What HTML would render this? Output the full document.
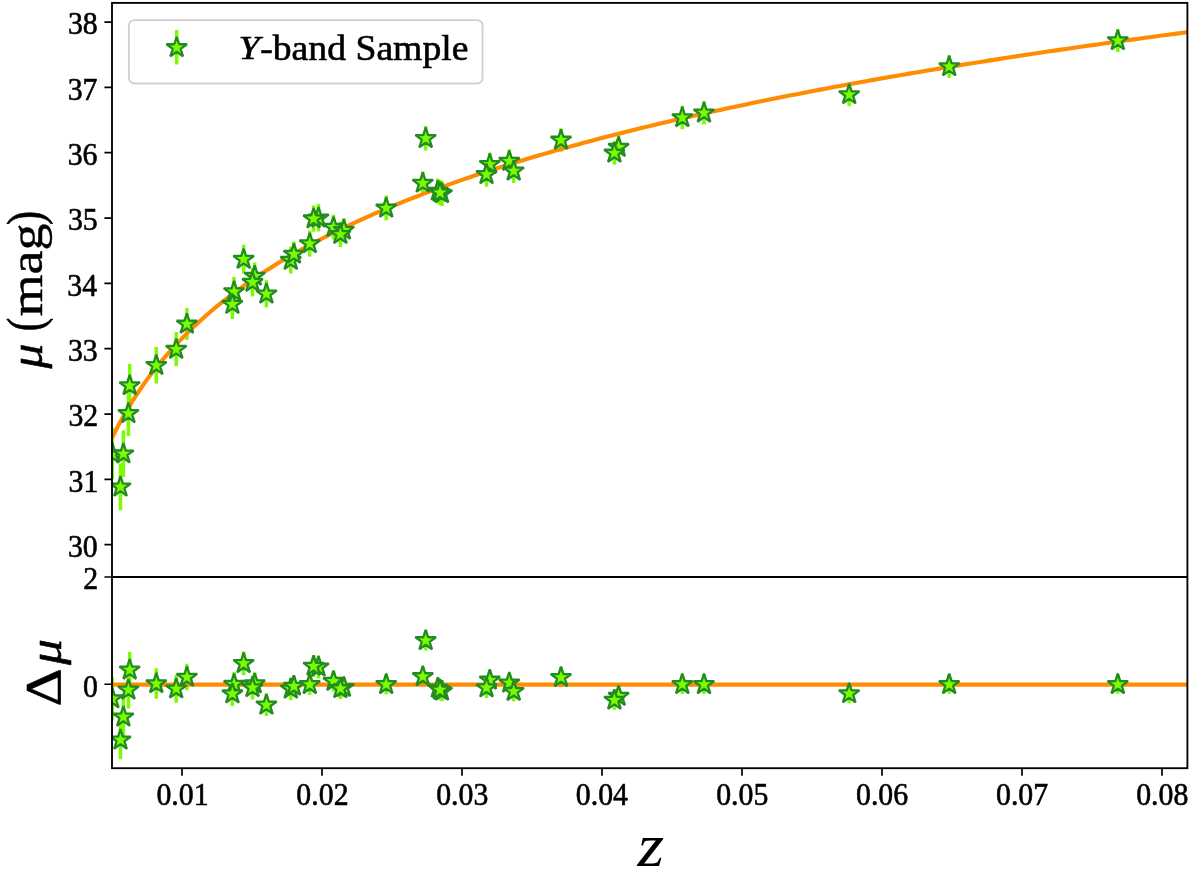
<!DOCTYPE html>
<html lang="en"><head><meta charset="utf-8"><title>Hubble diagram</title>
<style>html,body{margin:0;padding:0;background:#fff}body{width:1200px;height:873px;overflow:hidden}</style></head>
<body>
<svg width="1200" height="873" viewBox="0 0 1200 873" style="display:block">
<rect width="1200" height="873" fill="#fff"/>
<defs><clipPath id="ct"><rect x="112.0" y="2.9" width="1075.4" height="574.1"/></clipPath><clipPath id="cb"><rect x="112.0" y="577.0" width="1075.4" height="191.20000000000005"/></clipPath></defs>
<g clip-path="url(#ct)">
<g stroke="#7CFC00" stroke-width="3.5" fill="none">
<path d="M112.30 427.69V479.31"/>
<path d="M123.40 430.44V476.96"/>
<path d="M120.50 463.28V510.32"/>
<path d="M129.70 363.94V407.06"/>
<path d="M128.40 390.76V435.84"/>
<path d="M156.30 346.91V383.49"/>
<path d="M176.20 332.11V366.09"/>
<path d="M186.90 307.89V339.91"/>
<path d="M234.05 277.00V306.00"/>
<path d="M232.40 289.20V319.00"/>
<path d="M243.65 244.73V273.47"/>
<path d="M254.70 262.48V289.52"/>
<path d="M252.50 267.73V296.47"/>
<path d="M266.40 280.21V307.39"/>
<path d="M290.80 246.64V273.56"/>
<path d="M293.90 241.59V266.41"/>
<path d="M309.75 230.43V256.57"/>
<path d="M318.50 204.08V231.52"/>
<path d="M313.60 205.53V231.67"/>
<path d="M333.50 214.69V239.51"/>
<path d="M343.90 217.91V242.09"/>
<path d="M340.40 221.46V246.94"/>
<path d="M386.20 195.62V220.18"/>
<path d="M425.70 126.02V150.58"/>
<path d="M422.80 171.57V194.43"/>
<path d="M437.90 178.59V203.41"/>
<path d="M442.00 181.09V205.91"/>
<path d="M440.00 180.09V204.91"/>
<path d="M489.80 152.44V175.96"/>
<path d="M486.50 161.89V186.71"/>
<path d="M509.30 149.34V172.86"/>
<path d="M513.70 158.71V182.89"/>
<path d="M561.00 128.14V151.66"/>
<path d="M618.60 135.34V158.86"/>
<path d="M614.40 141.01V164.79"/>
<path d="M682.30 105.74V129.26"/>
<path d="M704.00 101.17V124.43"/>
<path d="M849.20 82.74V106.26"/>
<path d="M949.20 55.00V78.00"/>
<path d="M1117.80 29.00V52.00"/>
</g>
<path d="M108.00 446.42 L112.95 436.02 L117.89 426.33 L122.84 417.25 L127.79 408.72 L132.74 400.66 L137.68 393.03 L142.63 385.79 L147.58 378.90 L152.52 372.32 L157.47 366.03 L162.42 360.01 L167.36 354.23 L172.31 348.67 L177.26 343.31 L182.21 338.15 L187.15 333.17 L192.10 328.36 L197.05 323.70 L201.99 319.18 L206.94 314.81 L211.89 310.56 L216.83 306.43 L221.78 302.42 L226.73 298.52 L231.68 294.72 L236.62 291.01 L241.57 287.40 L246.52 283.88 L251.46 280.44 L256.41 277.08 L261.36 273.79 L266.31 270.58 L271.25 267.44 L276.20 264.36 L281.15 261.35 L286.09 258.40 L291.04 255.51 L295.99 252.67 L300.93 249.89 L305.88 247.16 L310.83 244.48 L315.78 241.85 L320.72 239.26 L325.67 236.72 L330.62 234.23 L335.56 231.77 L340.51 229.36 L345.46 226.98 L350.40 224.65 L355.35 222.35 L360.30 220.08 L365.25 217.85 L370.19 215.65 L375.14 213.49 L380.09 211.36 L385.03 209.25 L389.98 207.18 L394.93 205.14 L399.87 203.12 L404.82 201.13 L409.77 199.17 L414.72 197.23 L419.66 195.32 L424.61 193.44 L429.56 191.57 L434.50 189.73 L439.45 187.92 L444.40 186.12 L449.35 184.35 L454.29 182.59 L459.24 180.86 L464.19 179.15 L469.13 177.46 L474.08 175.78 L479.03 174.13 L483.97 172.49 L488.92 170.87 L493.87 169.27 L498.82 167.69 L503.76 166.12 L508.71 164.57 L513.66 163.03 L518.60 161.52 L523.55 160.01 L528.50 158.52 L533.44 157.05 L538.39 155.59 L543.34 154.14 L548.29 152.71 L553.23 151.29 L558.18 149.89 L563.13 148.50 L568.07 147.12 L573.02 145.75 L577.97 144.40 L582.92 143.06 L587.86 141.73 L592.81 140.41 L597.76 139.10 L602.70 137.81 L607.65 136.52 L612.60 135.25 L617.54 133.98 L622.49 132.73 L627.44 131.49 L632.39 130.26 L637.33 129.04 L642.28 127.83 L647.23 126.62 L652.17 125.43 L657.12 124.25 L662.07 123.07 L667.01 121.91 L671.96 120.75 L676.91 119.61 L681.86 118.47 L686.80 117.34 L691.75 116.21 L696.70 115.10 L701.64 114.00 L706.59 112.90 L711.54 111.81 L716.48 110.73 L721.43 109.65 L726.38 108.59 L731.33 107.53 L736.27 106.48 L741.22 105.43 L746.17 104.39 L751.11 103.36 L756.06 102.34 L761.01 101.33 L765.96 100.32 L770.90 99.31 L775.85 98.32 L780.80 97.33 L785.74 96.34 L790.69 95.36 L795.64 94.39 L800.58 93.43 L805.53 92.47 L810.48 91.52 L815.43 90.57 L820.37 89.63 L825.32 88.69 L830.27 87.76 L835.21 86.84 L840.16 85.92 L845.11 85.01 L850.05 84.10 L855.00 83.20 L859.95 82.30 L864.90 81.41 L869.84 80.52 L874.79 79.64 L879.74 78.76 L884.68 77.89 L889.63 77.03 L894.58 76.16 L899.53 75.31 L904.47 74.46 L909.42 73.61 L914.37 72.77 L919.31 71.93 L924.26 71.09 L929.21 70.26 L934.15 69.44 L939.10 68.62 L944.05 67.80 L949.00 66.99 L953.94 66.18 L958.89 65.38 L963.84 64.58 L968.78 63.79 L973.73 62.99 L978.68 62.21 L983.62 61.42 L988.57 60.64 L993.52 59.87 L998.47 59.10 L1003.41 58.33 L1008.36 57.57 L1013.31 56.81 L1018.25 56.05 L1023.20 55.30 L1028.15 54.55 L1033.09 53.80 L1038.04 53.06 L1042.99 52.32 L1047.94 51.59 L1052.88 50.86 L1057.83 50.13 L1062.78 49.40 L1067.72 48.68 L1072.67 47.97 L1077.62 47.25 L1082.57 46.54 L1087.51 45.83 L1092.46 45.13 L1097.41 44.42 L1102.35 43.73 L1107.30 43.03 L1112.25 42.34 L1117.19 41.65 L1122.14 40.96 L1127.09 40.28 L1132.04 39.60 L1136.98 38.92 L1141.93 38.25 L1146.88 37.57 L1151.82 36.91 L1156.77 36.24 L1161.72 35.58 L1166.66 34.92 L1171.61 34.26 L1176.56 33.60 L1181.51 32.95 L1186.45 32.30 L1191.40 31.66" fill="none" stroke="#FF8C00" stroke-width="4.1" stroke-linejoin="round"/>
<g fill="#7CFC00" stroke="#228B22" stroke-width="2.3" stroke-linejoin="bevel">
<path d="M112.30 442.90 L109.88 450.36 L102.03 450.36 L108.38 454.97 L105.95 462.44 L112.30 457.83 L118.65 462.44 L116.22 454.97 L122.57 450.36 L114.72 450.36Z"/>
<path d="M123.40 443.10 L120.98 450.56 L113.13 450.56 L119.48 455.17 L117.05 462.64 L123.40 458.03 L129.75 462.64 L127.32 455.17 L133.67 450.56 L125.82 450.56Z"/>
<path d="M120.50 476.20 L118.08 483.66 L110.23 483.66 L116.58 488.27 L114.15 495.74 L120.50 491.13 L126.85 495.74 L124.42 488.27 L130.77 483.66 L122.92 483.66Z"/>
<path d="M129.70 374.90 L127.28 382.36 L119.43 382.36 L125.78 386.97 L123.35 394.44 L129.70 389.83 L136.05 394.44 L133.62 386.97 L139.97 382.36 L132.12 382.36Z"/>
<path d="M128.40 402.70 L125.98 410.16 L118.13 410.16 L124.48 414.77 L122.05 422.24 L128.40 417.63 L134.75 422.24 L132.32 414.77 L138.67 410.16 L130.82 410.16Z"/>
<path d="M156.30 354.60 L153.88 362.06 L146.03 362.06 L152.38 366.67 L149.95 374.14 L156.30 369.53 L162.65 374.14 L160.22 366.67 L166.57 362.06 L158.72 362.06Z"/>
<path d="M176.20 338.50 L173.78 345.96 L165.93 345.96 L172.28 350.57 L169.85 358.04 L176.20 353.43 L182.55 358.04 L180.12 350.57 L186.47 345.96 L178.62 345.96Z"/>
<path d="M186.90 313.30 L184.48 320.76 L176.63 320.76 L182.98 325.37 L180.55 332.84 L186.90 328.23 L193.25 332.84 L190.82 325.37 L197.17 320.76 L189.32 320.76Z"/>
<path d="M234.05 280.90 L231.63 288.36 L223.78 288.36 L230.13 292.97 L227.70 300.44 L234.05 295.83 L240.40 300.44 L237.97 292.97 L244.32 288.36 L236.47 288.36Z"/>
<path d="M232.40 293.50 L229.98 300.96 L222.13 300.96 L228.48 305.57 L226.05 313.04 L232.40 308.43 L238.75 313.04 L236.32 305.57 L242.67 300.96 L234.82 300.96Z"/>
<path d="M243.65 248.50 L241.23 255.96 L233.38 255.96 L239.73 260.57 L237.30 268.04 L243.65 263.43 L250.00 268.04 L247.57 260.57 L253.92 255.96 L246.07 255.96Z"/>
<path d="M254.70 265.40 L252.28 272.86 L244.43 272.86 L250.78 277.47 L248.35 284.94 L254.70 280.33 L261.05 284.94 L258.62 277.47 L264.97 272.86 L257.12 272.86Z"/>
<path d="M252.50 271.50 L250.08 278.96 L242.23 278.96 L248.58 283.57 L246.15 291.04 L252.50 286.43 L258.85 291.04 L256.42 283.57 L262.77 278.96 L254.92 278.96Z"/>
<path d="M266.40 283.20 L263.98 290.66 L256.13 290.66 L262.48 295.27 L260.05 302.74 L266.40 298.13 L272.75 302.74 L270.32 295.27 L276.67 290.66 L268.82 290.66Z"/>
<path d="M290.80 249.50 L288.38 256.96 L280.53 256.96 L286.88 261.57 L284.45 269.04 L290.80 264.43 L297.15 269.04 L294.72 261.57 L301.07 256.96 L293.22 256.96Z"/>
<path d="M293.90 243.40 L291.48 250.86 L283.63 250.86 L289.98 255.47 L287.55 262.94 L293.90 258.33 L300.25 262.94 L297.82 255.47 L304.17 250.86 L296.32 250.86Z"/>
<path d="M309.75 232.90 L307.33 240.36 L299.48 240.36 L305.83 244.97 L303.40 252.44 L309.75 247.83 L316.10 252.44 L313.67 244.97 L320.02 240.36 L312.17 240.36Z"/>
<path d="M318.50 207.20 L316.08 214.66 L308.23 214.66 L314.58 219.27 L312.15 226.74 L318.50 222.13 L324.85 226.74 L322.42 219.27 L328.77 214.66 L320.92 214.66Z"/>
<path d="M313.60 208.00 L311.18 215.46 L303.33 215.46 L309.68 220.07 L307.25 227.54 L313.60 222.93 L319.95 227.54 L317.52 220.07 L323.87 215.46 L316.02 215.46Z"/>
<path d="M333.50 216.50 L331.08 223.96 L323.23 223.96 L329.58 228.57 L327.15 236.04 L333.50 231.43 L339.85 236.04 L337.42 228.57 L343.77 223.96 L335.92 223.96Z"/>
<path d="M343.90 219.40 L341.48 226.86 L333.63 226.86 L339.98 231.47 L337.55 238.94 L343.90 234.33 L350.25 238.94 L347.82 231.47 L354.17 226.86 L346.32 226.86Z"/>
<path d="M340.40 223.60 L337.98 231.06 L330.13 231.06 L336.48 235.67 L334.05 243.14 L340.40 238.53 L346.75 243.14 L344.32 235.67 L350.67 231.06 L342.82 231.06Z"/>
<path d="M386.20 197.30 L383.78 204.76 L375.93 204.76 L382.28 209.37 L379.85 216.84 L386.20 212.23 L392.55 216.84 L390.12 209.37 L396.47 204.76 L388.62 204.76Z"/>
<path d="M425.70 127.70 L423.28 135.16 L415.43 135.16 L421.78 139.77 L419.35 147.24 L425.70 142.63 L432.05 147.24 L429.62 139.77 L435.97 135.16 L428.12 135.16Z"/>
<path d="M422.80 172.40 L420.38 179.86 L412.53 179.86 L418.88 184.47 L416.45 191.94 L422.80 187.33 L429.15 191.94 L426.72 184.47 L433.07 179.86 L425.22 179.86Z"/>
<path d="M437.90 180.40 L435.48 187.86 L427.63 187.86 L433.98 192.47 L431.55 199.94 L437.90 195.33 L444.25 199.94 L441.82 192.47 L448.17 187.86 L440.32 187.86Z"/>
<path d="M442.00 182.90 L439.58 190.36 L431.73 190.36 L438.08 194.97 L435.65 202.44 L442.00 197.83 L448.35 202.44 L445.92 194.97 L452.27 190.36 L444.42 190.36Z"/>
<path d="M440.00 181.90 L437.58 189.36 L429.73 189.36 L436.08 193.97 L433.65 201.44 L440.00 196.83 L446.35 201.44 L443.92 193.97 L450.27 189.36 L442.42 189.36Z"/>
<path d="M489.80 153.60 L487.38 161.06 L479.53 161.06 L485.88 165.67 L483.45 173.14 L489.80 168.53 L496.15 173.14 L493.72 165.67 L500.07 161.06 L492.22 161.06Z"/>
<path d="M486.50 163.70 L484.08 171.16 L476.23 171.16 L482.58 175.77 L480.15 183.24 L486.50 178.63 L492.85 183.24 L490.42 175.77 L496.77 171.16 L488.92 171.16Z"/>
<path d="M509.30 150.50 L506.88 157.96 L499.03 157.96 L505.38 162.57 L502.95 170.04 L509.30 165.43 L515.65 170.04 L513.22 162.57 L519.57 157.96 L511.72 157.96Z"/>
<path d="M513.70 160.20 L511.28 167.66 L503.43 167.66 L509.78 172.27 L507.35 179.74 L513.70 175.13 L520.05 179.74 L517.62 172.27 L523.97 167.66 L516.12 167.66Z"/>
<path d="M561.00 129.30 L558.58 136.76 L550.73 136.76 L557.08 141.37 L554.65 148.84 L561.00 144.23 L567.35 148.84 L564.92 141.37 L571.27 136.76 L563.42 136.76Z"/>
<path d="M618.60 136.50 L616.18 143.96 L608.33 143.96 L614.68 148.57 L612.25 156.04 L618.60 151.43 L624.95 156.04 L622.52 148.57 L628.87 143.96 L621.02 143.96Z"/>
<path d="M614.40 142.30 L611.98 149.76 L604.13 149.76 L610.48 154.37 L608.05 161.84 L614.40 157.23 L620.75 161.84 L618.32 154.37 L624.67 149.76 L616.82 149.76Z"/>
<path d="M682.30 106.90 L679.88 114.36 L672.03 114.36 L678.38 118.97 L675.95 126.44 L682.30 121.83 L688.65 126.44 L686.22 118.97 L692.57 114.36 L684.72 114.36Z"/>
<path d="M704.00 102.20 L701.58 109.66 L693.73 109.66 L700.08 114.27 L697.65 121.74 L704.00 117.13 L710.35 121.74 L707.92 114.27 L714.27 109.66 L706.42 109.66Z"/>
<path d="M849.20 83.90 L846.78 91.36 L838.93 91.36 L845.28 95.97 L842.85 103.44 L849.20 98.83 L855.55 103.44 L853.12 95.97 L859.47 91.36 L851.62 91.36Z"/>
<path d="M949.20 55.90 L946.78 63.36 L938.93 63.36 L945.28 67.97 L942.85 75.44 L949.20 70.83 L955.55 75.44 L953.12 67.97 L959.47 63.36 L951.62 63.36Z"/>
<path d="M1117.80 29.90 L1115.38 37.36 L1107.53 37.36 L1113.88 41.97 L1111.45 49.44 L1117.80 44.83 L1124.15 49.44 L1121.72 41.97 L1128.07 37.36 L1120.22 37.36Z"/>
</g></g>
<g clip-path="url(#cb)">
<g stroke="#7CFC00" stroke-width="3.5" fill="none">
<path d="M112.30 677.23V719.97"/>
<path d="M123.40 697.54V736.06"/>
<path d="M120.50 720.32V759.28"/>
<path d="M129.70 651.95V687.65"/>
<path d="M128.40 671.14V708.46"/>
<path d="M156.30 668.35V698.65"/>
<path d="M176.20 674.63V702.77"/>
<path d="M186.90 663.75V690.25"/>
<path d="M234.05 672.09V696.11"/>
<path d="M232.40 681.27V705.93"/>
<path d="M243.65 651.40V675.20"/>
<path d="M254.70 672.40V694.80"/>
<path d="M252.50 675.60V699.40"/>
<path d="M266.40 693.55V716.05"/>
<path d="M290.80 677.66V699.94"/>
<path d="M293.90 675.72V696.28"/>
<path d="M309.75 673.48V695.12"/>
<path d="M318.50 655.44V678.16"/>
<path d="M313.60 655.18V676.82"/>
<path d="M333.50 670.82V691.38"/>
<path d="M343.90 677.19V697.21"/>
<path d="M340.40 677.85V698.95"/>
<path d="M386.20 674.13V694.47"/>
<path d="M425.70 630.23V650.57"/>
<path d="M422.80 666.93V685.87"/>
<path d="M437.90 677.72V698.28"/>
<path d="M442.00 680.72V701.28"/>
<path d="M440.00 679.52V700.08"/>
<path d="M489.80 670.16V689.64"/>
<path d="M486.50 677.32V697.88"/>
<path d="M509.30 673.06V692.54"/>
<path d="M513.70 681.19V701.21"/>
<path d="M561.00 667.56V687.04"/>
<path d="M618.60 686.36V705.84"/>
<path d="M614.40 690.15V709.85"/>
<path d="M682.30 674.56V694.04"/>
<path d="M704.00 674.67V693.93"/>
<path d="M849.20 683.76V703.24"/>
<path d="M949.20 674.78V693.82"/>
<path d="M1117.80 674.78V693.82"/>
</g>
<path d="M108.0 684.65H1191.4" fill="none" stroke="#FF8C00" stroke-width="4.1"/>
<g fill="#7CFC00" stroke="#228B22" stroke-width="2.3" stroke-linejoin="bevel">
<path d="M112.30 688.00 L109.88 695.46 L102.03 695.46 L108.38 700.07 L105.95 707.54 L112.30 702.93 L118.65 707.54 L116.22 700.07 L122.57 695.46 L114.72 695.46Z"/>
<path d="M123.40 706.20 L120.98 713.66 L113.13 713.66 L119.48 718.27 L117.05 725.74 L123.40 721.13 L129.75 725.74 L127.32 718.27 L133.67 713.66 L125.82 713.66Z"/>
<path d="M120.50 729.20 L118.08 736.66 L110.23 736.66 L116.58 741.27 L114.15 748.74 L120.50 744.13 L126.85 748.74 L124.42 741.27 L130.77 736.66 L122.92 736.66Z"/>
<path d="M129.70 659.20 L127.28 666.66 L119.43 666.66 L125.78 671.27 L123.35 678.74 L129.70 674.13 L136.05 678.74 L133.62 671.27 L139.97 666.66 L132.12 666.66Z"/>
<path d="M128.40 679.20 L125.98 686.66 L118.13 686.66 L124.48 691.27 L122.05 698.74 L128.40 694.13 L134.75 698.74 L132.32 691.27 L138.67 686.66 L130.82 686.66Z"/>
<path d="M156.30 672.90 L153.88 680.36 L146.03 680.36 L152.38 684.97 L149.95 692.44 L156.30 687.83 L162.65 692.44 L160.22 684.97 L166.57 680.36 L158.72 680.36Z"/>
<path d="M176.20 678.10 L173.78 685.56 L165.93 685.56 L172.28 690.17 L169.85 697.64 L176.20 693.03 L182.55 697.64 L180.12 690.17 L186.47 685.56 L178.62 685.56Z"/>
<path d="M186.90 666.40 L184.48 673.86 L176.63 673.86 L182.98 678.47 L180.55 685.94 L186.90 681.33 L193.25 685.94 L190.82 678.47 L197.17 673.86 L189.32 673.86Z"/>
<path d="M234.05 673.50 L231.63 680.96 L223.78 680.96 L230.13 685.57 L227.70 693.04 L234.05 688.43 L240.40 693.04 L237.97 685.57 L244.32 680.96 L236.47 680.96Z"/>
<path d="M232.40 683.00 L229.98 690.46 L222.13 690.46 L228.48 695.07 L226.05 702.54 L232.40 697.93 L238.75 702.54 L236.32 695.07 L242.67 690.46 L234.82 690.46Z"/>
<path d="M243.65 652.70 L241.23 660.16 L233.38 660.16 L239.73 664.77 L237.30 672.24 L243.65 667.63 L250.00 672.24 L247.57 664.77 L253.92 660.16 L246.07 660.16Z"/>
<path d="M254.70 673.00 L252.28 680.46 L244.43 680.46 L250.78 685.07 L248.35 692.54 L254.70 687.93 L261.05 692.54 L258.62 685.07 L264.97 680.46 L257.12 680.46Z"/>
<path d="M252.50 676.90 L250.08 684.36 L242.23 684.36 L248.58 688.97 L246.15 696.44 L252.50 691.83 L258.85 696.44 L256.42 688.97 L262.77 684.36 L254.92 684.36Z"/>
<path d="M266.40 694.20 L263.98 701.66 L256.13 701.66 L262.48 706.27 L260.05 713.74 L266.40 709.13 L272.75 713.74 L270.32 706.27 L276.67 701.66 L268.82 701.66Z"/>
<path d="M290.80 678.20 L288.38 685.66 L280.53 685.66 L286.88 690.27 L284.45 697.74 L290.80 693.13 L297.15 697.74 L294.72 690.27 L301.07 685.66 L293.22 685.66Z"/>
<path d="M293.90 675.40 L291.48 682.86 L283.63 682.86 L289.98 687.47 L287.55 694.94 L293.90 690.33 L300.25 694.94 L297.82 687.47 L304.17 682.86 L296.32 682.86Z"/>
<path d="M309.75 673.70 L307.33 681.16 L299.48 681.16 L305.83 685.77 L303.40 693.24 L309.75 688.63 L316.10 693.24 L313.67 685.77 L320.02 681.16 L312.17 681.16Z"/>
<path d="M318.50 656.20 L316.08 663.66 L308.23 663.66 L314.58 668.27 L312.15 675.74 L318.50 671.13 L324.85 675.74 L322.42 668.27 L328.77 663.66 L320.92 663.66Z"/>
<path d="M313.60 655.40 L311.18 662.86 L303.33 662.86 L309.68 667.47 L307.25 674.94 L313.60 670.33 L319.95 674.94 L317.52 667.47 L323.87 662.86 L316.02 662.86Z"/>
<path d="M333.50 670.50 L331.08 677.96 L323.23 677.96 L329.58 682.57 L327.15 690.04 L333.50 685.43 L339.85 690.04 L337.42 682.57 L343.77 677.96 L335.92 677.96Z"/>
<path d="M343.90 676.60 L341.48 684.06 L333.63 684.06 L339.98 688.67 L337.55 696.14 L343.90 691.53 L350.25 696.14 L347.82 688.67 L354.17 684.06 L346.32 684.06Z"/>
<path d="M340.40 677.80 L337.98 685.26 L330.13 685.26 L336.48 689.87 L334.05 697.34 L340.40 692.73 L346.75 697.34 L344.32 689.87 L350.67 685.26 L342.82 685.26Z"/>
<path d="M386.20 673.70 L383.78 681.16 L375.93 681.16 L382.28 685.77 L379.85 693.24 L386.20 688.63 L392.55 693.24 L390.12 685.77 L396.47 681.16 L388.62 681.16Z"/>
<path d="M425.70 629.80 L423.28 637.26 L415.43 637.26 L421.78 641.87 L419.35 649.34 L425.70 644.73 L432.05 649.34 L429.62 641.87 L435.97 637.26 L428.12 637.26Z"/>
<path d="M422.80 665.80 L420.38 673.26 L412.53 673.26 L418.88 677.87 L416.45 685.34 L422.80 680.73 L429.15 685.34 L426.72 677.87 L433.07 673.26 L425.22 673.26Z"/>
<path d="M437.90 677.40 L435.48 684.86 L427.63 684.86 L433.98 689.47 L431.55 696.94 L437.90 692.33 L444.25 696.94 L441.82 689.47 L448.17 684.86 L440.32 684.86Z"/>
<path d="M442.00 680.40 L439.58 687.86 L431.73 687.86 L438.08 692.47 L435.65 699.94 L442.00 695.33 L448.35 699.94 L445.92 692.47 L452.27 687.86 L444.42 687.86Z"/>
<path d="M440.00 679.20 L437.58 686.66 L429.73 686.66 L436.08 691.27 L433.65 698.74 L440.00 694.13 L446.35 698.74 L443.92 691.27 L450.27 686.66 L442.42 686.66Z"/>
<path d="M489.80 669.30 L487.38 676.76 L479.53 676.76 L485.88 681.37 L483.45 688.84 L489.80 684.23 L496.15 688.84 L493.72 681.37 L500.07 676.76 L492.22 676.76Z"/>
<path d="M486.50 677.00 L484.08 684.46 L476.23 684.46 L482.58 689.07 L480.15 696.54 L486.50 691.93 L492.85 696.54 L490.42 689.07 L496.77 684.46 L488.92 684.46Z"/>
<path d="M509.30 672.20 L506.88 679.66 L499.03 679.66 L505.38 684.27 L502.95 691.74 L509.30 687.13 L515.65 691.74 L513.22 684.27 L519.57 679.66 L511.72 679.66Z"/>
<path d="M513.70 680.60 L511.28 688.06 L503.43 688.06 L509.78 692.67 L507.35 700.14 L513.70 695.53 L520.05 700.14 L517.62 692.67 L523.97 688.06 L516.12 688.06Z"/>
<path d="M561.00 666.70 L558.58 674.16 L550.73 674.16 L557.08 678.77 L554.65 686.24 L561.00 681.63 L567.35 686.24 L564.92 678.77 L571.27 674.16 L563.42 674.16Z"/>
<path d="M618.60 685.50 L616.18 692.96 L608.33 692.96 L614.68 697.57 L612.25 705.04 L618.60 700.43 L624.95 705.04 L622.52 697.57 L628.87 692.96 L621.02 692.96Z"/>
<path d="M614.40 689.40 L611.98 696.86 L604.13 696.86 L610.48 701.47 L608.05 708.94 L614.40 704.33 L620.75 708.94 L618.32 701.47 L624.67 696.86 L616.82 696.86Z"/>
<path d="M682.30 673.70 L679.88 681.16 L672.03 681.16 L678.38 685.77 L675.95 693.24 L682.30 688.63 L688.65 693.24 L686.22 685.77 L692.57 681.16 L684.72 681.16Z"/>
<path d="M704.00 673.70 L701.58 681.16 L693.73 681.16 L700.08 685.77 L697.65 693.24 L704.00 688.63 L710.35 693.24 L707.92 685.77 L714.27 681.16 L706.42 681.16Z"/>
<path d="M849.20 682.90 L846.78 690.36 L838.93 690.36 L845.28 694.97 L842.85 702.44 L849.20 697.83 L855.55 702.44 L853.12 694.97 L859.47 690.36 L851.62 690.36Z"/>
<path d="M949.20 673.70 L946.78 681.16 L938.93 681.16 L945.28 685.77 L942.85 693.24 L949.20 688.63 L955.55 693.24 L953.12 685.77 L959.47 681.16 L951.62 681.16Z"/>
<path d="M1117.80 673.70 L1115.38 681.16 L1107.53 681.16 L1113.88 685.77 L1111.45 693.24 L1117.80 688.63 L1124.15 693.24 L1121.72 685.77 L1128.07 681.16 L1120.22 681.16Z"/>
</g></g>
<g stroke="#000" fill="none">
<rect x="112.0" y="2.9" width="1075.4" height="765.3000000000001" stroke-width="1.85"/>
<path d="M112.0 577.0H1187.4" stroke-width="1.8"/>
<path d="M104.40 544.70H112.0M104.40 479.37H112.0M104.40 414.04H112.0M104.40 348.71H112.0M104.40 283.38H112.0M104.40 218.05H112.0M104.40 152.72H112.0M104.40 87.39H112.0M104.40 22.06H112.0M104.40 577.00H112.0M104.40 684.25H112.0M182.00 768.2V775.80M322.00 768.2V775.80M462.00 768.2V775.80M602.00 768.2V775.80M742.00 768.2V775.80M882.00 768.2V775.80M1022.00 768.2V775.80M1162.00 768.2V775.80" stroke-width="1.7"/>
</g>
<rect x="128.9" y="20.1" width="353.70000000000005" height="63.4" rx="5.5" ry="5.5" fill="#fff" fill-opacity="0.8" stroke="#ccc" stroke-opacity="0.9" stroke-width="1.9"/>
<path d="M176.7 30V64.5" stroke="#7CFC00" stroke-width="3.5"/>
<path d="M176.70 36.80 L174.28 44.26 L166.43 44.26 L172.78 48.87 L170.35 56.34 L176.70 51.73 L183.05 56.34 L180.62 48.87 L186.97 44.26 L179.12 44.26Z" fill="#7CFC00" stroke="#228B22" stroke-width="2.3" stroke-linejoin="bevel"/>
<g font-family="'Liberation Serif', serif" fill="#000" stroke="#000" stroke-linejoin="round">
<text transform="matrix(0.9500 0.0000 0.0000 1.0000 67.96 557.00)" font-size="31.40" font-style="normal" stroke-width="0.6" xml:space="preserve">30</text>
<text transform="matrix(0.9500 0.0000 0.0000 1.0000 68.56 491.67)" font-size="31.40" font-style="normal" stroke-width="0.6" xml:space="preserve">31</text>
<text transform="matrix(0.9500 0.0000 0.0000 1.0000 68.41 426.34)" font-size="31.40" font-style="normal" stroke-width="0.6" xml:space="preserve">32</text>
<text transform="matrix(0.9500 0.0000 0.0000 1.0000 67.96 361.01)" font-size="31.40" font-style="normal" stroke-width="0.6" xml:space="preserve">33</text>
<text transform="matrix(0.9500 0.0000 0.0000 1.0000 67.22 295.68)" font-size="31.40" font-style="normal" stroke-width="0.6" xml:space="preserve">34</text>
<text transform="matrix(0.9500 0.0000 0.0000 1.0000 67.96 230.35)" font-size="31.40" font-style="normal" stroke-width="0.6" xml:space="preserve">35</text>
<text transform="matrix(0.9500 0.0000 0.0000 1.0000 67.66 165.02)" font-size="31.40" font-style="normal" stroke-width="0.6" xml:space="preserve">36</text>
<text transform="matrix(0.9500 0.0000 0.0000 1.0000 67.66 99.69)" font-size="31.40" font-style="normal" stroke-width="0.6" xml:space="preserve">37</text>
<text transform="matrix(0.9500 0.0000 0.0000 1.0000 67.96 34.36)" font-size="31.40" font-style="normal" stroke-width="0.6" xml:space="preserve">38</text>
<text transform="matrix(0.9500 0.0000 0.0000 1.0000 83.33 589.30)" font-size="31.40" font-style="normal" stroke-width="0.6" xml:space="preserve">2</text>
<text transform="matrix(0.9500 0.0000 0.0000 1.0000 82.88 696.55)" font-size="31.40" font-style="normal" stroke-width="0.6" xml:space="preserve">0</text>
<text transform="matrix(0.9500 0.0000 0.0000 1.0000 156.45 805.20)" font-size="31.40" font-style="normal" stroke-width="0.6" xml:space="preserve">0.01</text>
<text transform="matrix(0.9500 0.0000 0.0000 1.0000 296.37 805.20)" font-size="31.40" font-style="normal" stroke-width="0.6" xml:space="preserve">0.02</text>
<text transform="matrix(0.9500 0.0000 0.0000 1.0000 436.15 805.20)" font-size="31.40" font-style="normal" stroke-width="0.6" xml:space="preserve">0.03</text>
<text transform="matrix(0.9500 0.0000 0.0000 1.0000 575.78 805.20)" font-size="31.40" font-style="normal" stroke-width="0.6" xml:space="preserve">0.04</text>
<text transform="matrix(0.9500 0.0000 0.0000 1.0000 716.15 805.20)" font-size="31.40" font-style="normal" stroke-width="0.6" xml:space="preserve">0.05</text>
<text transform="matrix(0.9500 0.0000 0.0000 1.0000 856.00 805.20)" font-size="31.40" font-style="normal" stroke-width="0.6" xml:space="preserve">0.06</text>
<text transform="matrix(0.9500 0.0000 0.0000 1.0000 996.00 805.20)" font-size="31.40" font-style="normal" stroke-width="0.6" xml:space="preserve">0.07</text>
<text transform="matrix(0.9500 0.0000 0.0000 1.0000 1136.15 805.20)" font-size="31.40" font-style="normal" stroke-width="0.6" xml:space="preserve">0.08</text>
<text transform="matrix(1.1633 0.0000 0.0000 1.0000 238.41 59.30)" font-size="32.77" font-style="italic" stroke-width="0.6" xml:space="preserve">Y</text>
<text transform="matrix(1.0449 0.0000 0.0000 1.0000 260.18 59.60)" font-size="36.09" font-style="normal" stroke-width="0.6" xml:space="preserve">-band Sample</text>
<text transform="matrix(1.1104 0.0000 0.0000 1.0000 637.48 866.10)" font-size="61.52" font-style="italic" stroke-width="0" xml:space="preserve">z</text>
<text transform="matrix(0.0000 -1.0749 1.0000 0.0000 42.21 368.60)" font-size="46.12" font-style="italic" stroke-width="0.6" xml:space="preserve">μ</text>
<text transform="matrix(0.0000 -0.8061 1.0000 0.0000 42.48 331.32)" font-size="50.11" font-style="normal" stroke-width="0.6" xml:space="preserve">(</text>
<text transform="matrix(0.0000 -1.1798 1.0000 0.0000 42.40 316.56)" font-size="45.89" font-style="normal" stroke-width="0.45" xml:space="preserve">mag</text>
<text transform="matrix(0.0000 -0.8673 1.0000 0.0000 42.48 225.30)" font-size="50.11" font-style="normal" stroke-width="0.6" xml:space="preserve">)</text>
<text transform="matrix(0.0000 -1.1733 1.0000 0.0000 59.60 706.38)" font-size="50.69" font-style="normal" stroke-width="0.6" xml:space="preserve">Δ</text>
<text transform="matrix(0.0000 -1.1036 1.0000 0.0000 60.78 664.80)" font-size="46.27" font-style="italic" stroke-width="0.6" xml:space="preserve">μ</text>
</g>
</svg>
</body></html>
